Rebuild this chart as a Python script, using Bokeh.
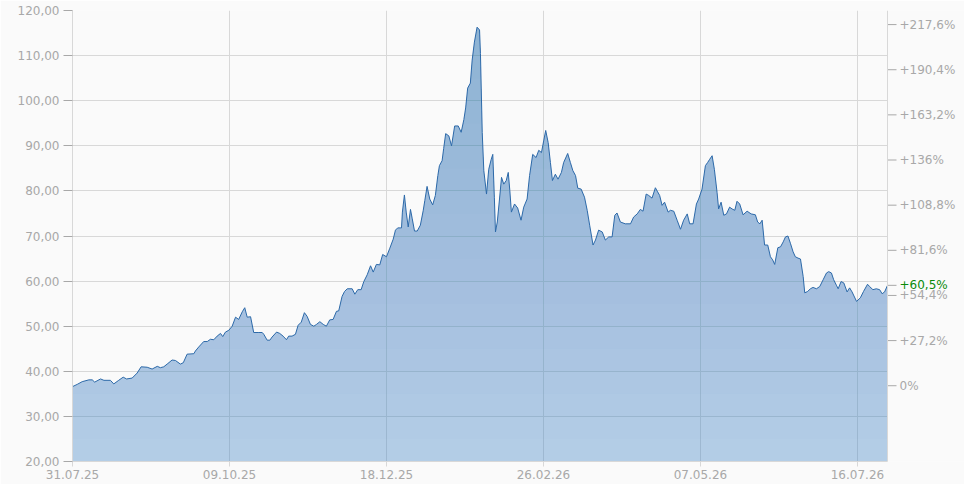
import numpy as np
import pandas as pd
from bokeh.plotting import figure
from bokeh.models import (FixedTicker, CustomJSTickFormatter, Range1d,
                          DatetimeTickFormatter, Span)
from bokeh.core.properties import value
from bokeh.embed import file_html
from bokeh.resources import INLINE

# ---------------- data ----------------
start_date = "2025-07-31"
days = [0.0, 2.1, 4.3, 7.3, 8.8, 9.9, 12.5, 14.0, 16.9, 18.4, 20.6, 22.6, 24.1, 26.6, 28.8,
        30.6, 33.3, 35.5, 37.8, 39.2, 40.7, 42.2, 44.4, 45.9, 48.1, 49.4, 51.1, 54.1, 54.8,
        56.3, 58.5, 60.1, 61.5, 63.0, 64.5, 66.0, 67.0, 68.2, 69.7, 71.2, 72.7, 74.1, 75.7,
        76.8, 77.9, 79.4, 80.8, 83.1, 84.6, 85.3, 86.8, 88.0, 89.0, 91.0, 92.4, 93.9, 95.4,
        96.4, 97.9, 99.4, 100.6, 102.0, 103.4, 104.6, 106.1, 107.6, 108.8, 110.3, 111.8,
        113.2, 114.7, 116.2, 117.7, 118.7, 120.2, 121.3, 122.5, 124.7, 125.9, 127.2, 128.7,
        129.9, 131.4, 132.9, 134.1, 135.5, 137.0, 138.3, 140.0, 141.5, 143.0, 144.0, 145.0,
        146.7, 147.1, 148.0, 148.8, 149.7, 150.7, 151.5, 152.5, 153.7, 155.1, 156.4, 157.1,
        158.1, 159.3, 160.6, 161.8, 162.9, 163.6, 164.8, 165.5, 166.4, 167.8, 169.0, 170.4,
        172.0, 173.3, 174.5, 175.3, 176.2, 177.4, 178.2, 179.2, 180.4, 181.5, 181.9, 182.7,
        183.4, 184.6, 185.6, 186.7, 187.4, 188.1, 188.6, 189.4, 190.4, 191.3, 192.3, 193.4,
        194.3, 195.0, 195.7, 197.1, 198.5, 200.0, 201.2, 202.7, 203.8, 205.2, 206.7, 207.9,
        209.1, 210.1, 211.0, 212.1, 213.1, 214.0, 215.3, 216.5, 218.0, 219.0, 220.8, 222.0,
        223.1, 224.3, 225.3, 226.8, 228.3, 229.5, 230.6, 232.1, 233.2, 234.6, 236.2, 237.6,
        239.1, 240.6, 241.8, 242.8, 244.3, 246.5, 248.8, 250.2, 251.8, 253.2, 254.4, 255.8,
        256.9, 258.4, 259.9, 260.9, 261.8, 262.9, 264.0, 265.6, 266.6, 268.1, 269.6, 271.1,
        272.5, 274.1, 275.2, 276.7, 278.2, 279.2, 280.7, 282.2, 283.2, 284.1, 285.2, 286.2,
        287.4, 288.1, 289.2, 290.4, 291.6, 293.0, 294.1, 295.3, 296.3, 297.5, 299.0, 300.8,
        302.6, 304.5, 305.5, 306.5, 307.5, 308.6, 310.0, 311.2, 312.2, 313.1, 314.5, 315.7,
        316.9, 317.9, 319.0, 320.1, 321.3, 322.3, 323.5, 324.6, 325.8, 326.5, 327.8, 329.0,
        330.2, 331.7, 333.2, 334.7, 336.2, 337.2, 338.4, 339.4, 340.6, 341.4, 342.7, 343.9,
        345.4, 346.5, 347.6, 349.6, 351.3, 352.7, 354.5, 355.4, 356.9, 358.4, 359.9, 361.0,
        362.1, 363.4]
prices = [36.6, 37.1, 37.7, 38.1, 38.1, 37.6, 38.3, 38.0, 38.0, 37.2, 38.0, 38.7, 38.3, 38.5, 39.6,
          41.0, 40.9, 40.5, 41.1, 40.8, 41.0, 41.6, 42.5, 42.4, 41.6, 41.9, 43.8, 43.9, 44.5,
          45.4, 46.6, 46.6, 47.1, 47.0, 47.8, 48.4, 47.7, 48.7, 49.1, 50.0, 52.0, 51.5, 53.2,
          54.1, 52.0, 52.1, 48.6, 48.6, 48.6, 48.2, 46.9, 46.9, 47.6, 48.7, 48.4, 47.8, 47.0,
          47.8, 47.8, 48.2, 50.2, 50.9, 53.0, 52.2, 50.4, 50.0, 50.4, 51.0, 50.4,
          50.0, 51.4, 51.5, 53.3, 53.4, 56.6, 57.7, 58.3, 58.3, 57.1, 58.1, 58.1,
          59.9, 61.4, 63.4, 62.0, 63.7, 63.6, 65.9, 65.4, 67.3, 69.3, 71.3, 71.8,
          71.8, 75.3, 79.1, 75.3, 72.0, 75.9, 73.8, 71.1, 71.1, 72.4, 75.7, 77.9,
          81.0, 78.2, 76.9, 79.0, 83.4, 85.6, 86.7, 89.4, 92.7, 92.2, 90.0, 94.4,
          94.4, 93.0, 95.8, 98.4, 102.8, 103.9, 109.0, 113.0, 116.3, 115.7, 110.5, 92.9,
          84.5, 79.3, 84.8, 87.0, 88.1, 78.6, 70.9, 73.1, 78.2, 83.0, 81.5, 82.3,
          84.1, 80.1, 75.3, 77.1, 76.2, 73.5, 76.4, 78.2, 83.4, 88.1, 87.4, 89.0,
          88.5, 91.1, 93.4, 90.7, 86.3, 82.3, 83.7, 82.6, 84.1, 86.3, 88.3, 86.3,
          84.5, 83.4, 80.6, 80.4, 78.6, 75.7, 72.4, 68.0, 69.1, 71.3, 70.9, 69.1,
          69.8, 69.8, 74.6, 75.1, 73.1, 72.7, 72.7, 74.2, 74.9, 75.9, 75.5, 79.3,
          79.0, 78.4, 80.7, 79.8, 79.0, 76.8, 77.5, 75.3, 75.7, 75.5, 73.5, 71.5,
          73.5, 74.9, 72.7, 72.7, 77.1, 78.2, 80.4, 85.6, 86.3, 87.0, 87.8, 84.8,
          79.7, 76.0, 77.5, 74.6, 74.9, 76.4, 76.0, 75.7, 77.7, 77.1, 74.7, 75.5,
          74.9, 74.7, 73.1, 72.7, 73.5, 68.0, 68.0, 65.4, 64.7, 63.7, 67.4, 67.6,
          68.7, 69.8, 70.0, 68.4, 66.5, 65.4, 65.1, 64.9, 61.0, 57.4, 57.7, 58.3,
          58.6, 58.3, 58.8, 60.3, 61.8, 62.1, 61.8, 60.3, 59.1, 58.3, 59.9, 59.6,
          57.6, 58.5, 57.6, 55.5, 56.3, 57.7, 59.3, 58.8, 58.1, 58.3, 58.1, 57.2,
          57.6, 59.06]
base_price = 36.8                      # reference price for the percentage axis (0 %)
pct_steps = [0, 1, 2, 3, 4, 5, 6, 7, 8]  # right axis ticks: k * 27.2 %
pct_step = 27.2
price_ticks = [20, 30, 40, 50, 60, 70, 80, 90, 100, 110, 120]
date_tick_labels = ["31.07.25", "09.10.25", "18.12.25", "26.02.26", "07.05.26", "16.07.26"]

# ---------------- layout ----------------
FONT = "DejaVu Sans"
GREY = "#a8a8a8"
LIGHT = "#d8d8d8"
GREEN = "#0a8a0a"
W, H = 964, 484
BL, BT, BB = 72, 10, 23
DATA_RIGHT = 887          # pixel where the price history ends / right scale sits

# ---------------- derived ----------------
t0 = pd.Timestamp(start_date)
dates = t0 + pd.to_timedelta(np.array(days), unit="D")
v = np.array(prices)
date_ticks_ms = [pd.Timestamp(pd.to_datetime(s, format="%d.%m.%y")).timestamp() * 1000
                 for s in date_tick_labels]
t0_ms = t0.timestamp() * 1000
last_ms = dates[-1].timestamp() * 1000
last_val = prices[-1]
# the frame runs to the right edge; the data ends at DATA_RIGHT
x_end_ms = t0_ms + (last_ms - t0_ms) * (W - BL) / (DATA_RIGHT - BL)

def pct_label(val):
    pc = (val / base_price - 1) * 100
    s = f"{pc:.1f}"
    if s.endswith(".0"):
        s = s[:-2]
    s = s.replace(".", ",")
    if abs(pc) < 1e-6:
        return "0%"
    return ("+" if pc > 0 else "") + s + "%"

right_ticks = [base_price * (1 + k * pct_step / 100) for k in pct_steps]
right_labels = [pct_label(t) for t in right_ticks]

p = figure(width=W, height=H, output_backend="svg", toolbar_location=None,
           x_axis_type="datetime", background_fill_color="#fafafa",
           border_fill_color="#fafafa",
           x_range=Range1d(t0_ms, x_end_ms), y_range=Range1d(20, 120),
           min_border_left=BL, min_border_right=0, min_border_top=BT, min_border_bottom=BB)
p.outline_line_color = None

# grids (horizontal lines stop at the right scale)
p.xgrid.ticker = FixedTicker(ticks=date_ticks_ms)
p.ygrid.ticker = FixedTicker(ticks=price_ticks)
for g in (p.xgrid, p.ygrid):
    g.grid_line_color = LIGHT
    g.grid_line_width = 1
p.ygrid.cross_bounds = (t0_ms, last_ms)

# area with soft vertical gradient (stacked translucent layers)
FILL = "#488ac8"
p.varea(x=dates, y1=20, y2=v, fill_color=FILL, fill_alpha=0.40)
for thr in np.arange(25, 120, 5):
    p.varea(x=dates, y1=np.minimum(thr, v), y2=v, fill_color=FILL, fill_alpha=0.0143)
p.line(dates, v, line_color="#2d69a8", line_width=1)

# left axis
ya = p.yaxis[0]
ya.ticker = FixedTicker(ticks=price_ticks)
ya.formatter = CustomJSTickFormatter(code="return tick.toFixed(2).replace('.', ',');")
ya.axis_line_color = LIGHT
ya.major_tick_line_color = GREY
ya.major_tick_out = 9
ya.major_tick_in = 0
ya.minor_tick_line_color = None
ya.major_label_standoff = 4
ya.major_label_text_font = FONT
ya.major_label_text_font_size = "12px"
ya.major_label_text_color = GREY

# bottom axis
xa = p.xaxis[0]
xa.ticker = FixedTicker(ticks=date_ticks_ms)
xa.bounds = (t0_ms, last_ms)
fmt = "%d.%m.%y"
xa.formatter = DatetimeTickFormatter(milliseconds=fmt, seconds=fmt, minsec=fmt, minutes=fmt,
                                     hourmin=fmt, hours=fmt, days=fmt, months=fmt, years=fmt)
xa.axis_line_color = LIGHT
xa.major_tick_line_color = LIGHT
xa.major_tick_out = 5
xa.major_tick_in = 0
xa.minor_tick_line_color = None
xa.major_label_standoff = 3
xa.major_label_text_font = FONT
xa.major_label_text_font_size = "12px"
xa.major_label_text_color = GREY

# right percentage scale, drawn at the end of the data
p.add_layout(Span(location=last_ms, dimension="height", line_color=LIGHT, line_width=1))
p.ray(x=[last_ms] * (len(right_ticks) + 1), y=right_ticks + [last_val], length=9,
      length_units="screen", angle=0, line_color=GREY, line_width=1)
p.text(x=[last_ms] * len(right_ticks), y=right_ticks, text=right_labels, x_offset=12,
       text_baseline="middle", text_align="left", text_color=GREY,
       text_font=value(FONT), text_font_size="12px")
p.text(x=[last_ms], y=[last_val], text=[pct_label(last_val)], x_offset=12,
       text_baseline="middle", text_align="left", text_color=GREEN,
       text_font=value(FONT), text_font_size="12px")

open("out.html", "w").write(file_html(p, INLINE))
